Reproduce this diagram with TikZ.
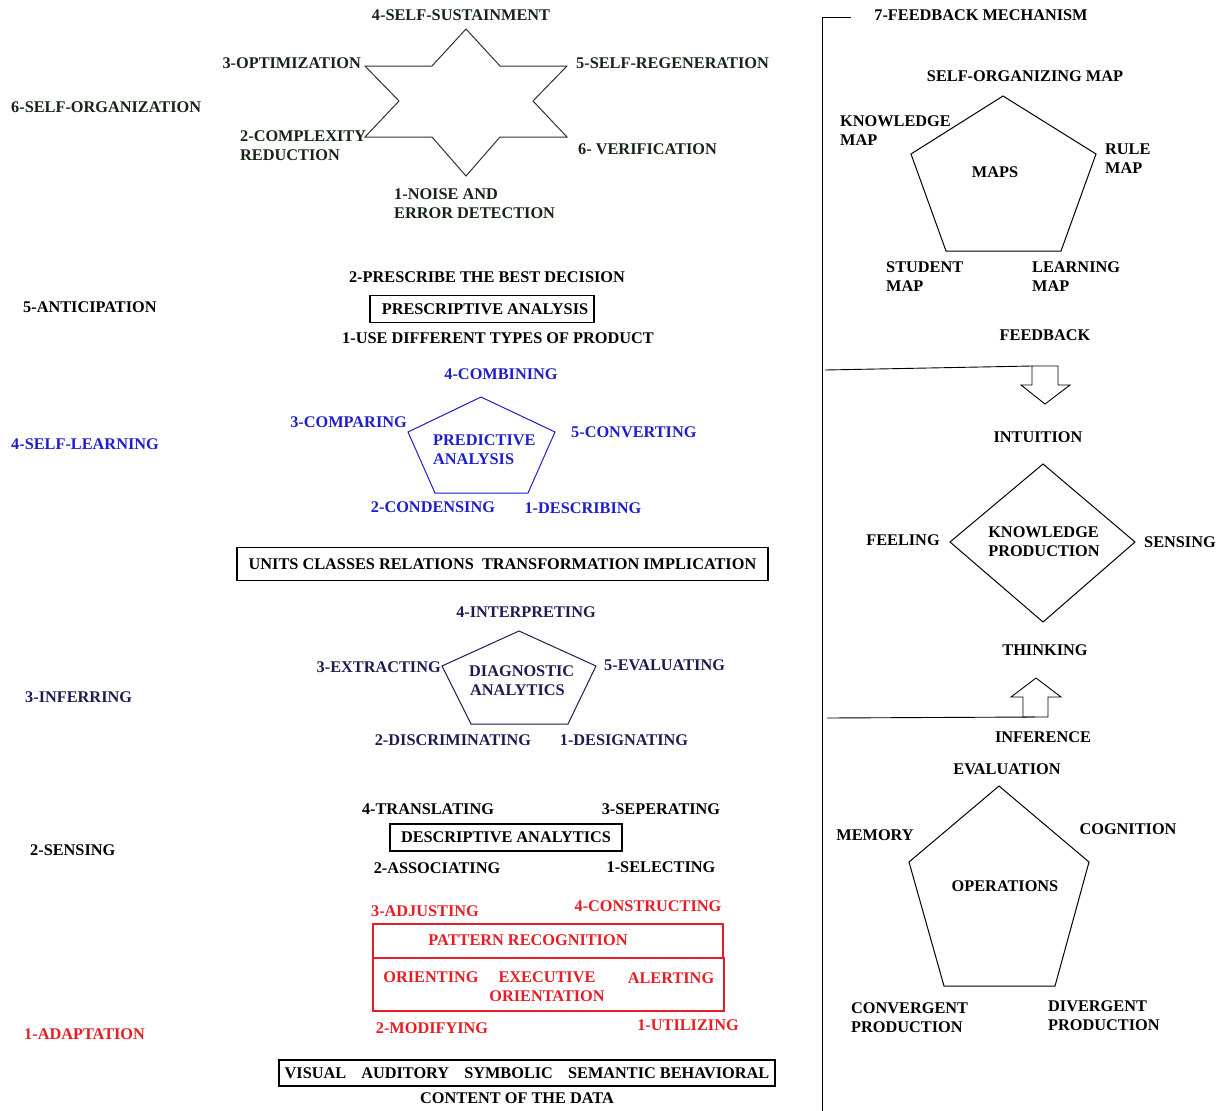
\documentclass[tikz,border=0pt]{standalone}
\usepackage{fontspec}
\setmainfont{Liberation Serif}
\usetikzlibrary{calc}
\definecolor{orgc}{RGB}{22,36,22}
\definecolor{learnc}{RGB}{30,30,205}
\definecolor{inferc}{RGB}{28,28,82}
\definecolor{adaptc}{RGB}{232,28,36}
\begin{document}
% two-line labels are placed by the centre of their last line
\begin{tikzpicture}[x=1pt,y=-1pt,
  lbl/.style={inner sep=0pt, font=\fontsize{16.3}{19}\selectfont\bfseries,
              text height=10.8pt, text depth=0pt},
  lbll/.style={lbl, align=left},
  lblc/.style={lbl, align=center},
  boxed/.style={draw, line width=1.1pt, inner sep=0pt},
  shapeline/.style={line width=1pt, line join=miter},
  barrow/.style={draw, line width=0.9pt, fill=white}]
\useasboundingbox[fill=white] (0,0) rectangle (1221,1111);

% ---------- level labels on the left ----------
\node[lbl, anchor=west, text=orgc]   (lv6) at (11,107)  {6-SELF-ORGANIZATION};
\node[lbl, anchor=west]              (lv5) at (23,307)  {5-ANTICIPATION};
\node[lbl, anchor=west, text=learnc] (lv4) at (11,444)  {4-SELF-LEARNING};
\node[lbl, anchor=west, text=inferc] (lv3) at (25,697)  {3-INFERRING};
\node[lbl, anchor=west]              (lv2) at (30,850)  {2-SENSING};
\node[lbl, anchor=west, text=adaptc] (lv1) at (24,1034) {1-ADAPTATION};

% ---------- self-organization star ----------
\draw[shapeline, draw=orgc!80!gray]
  (466,29) -- (500,66) -- (567,66) -- (533,101) -- (567,137) -- (500,137)
  -- (466,176) -- (432,137) -- (365,137) -- (399,101) -- (365,66) -- (432,66) -- cycle;
\begin{scope}[every node/.append style={text=orgc}]
\node[lbl] (s4) at (461,15) {4-SELF-SUSTAINMENT};
\node[lbl, anchor=east] (s3) at (361,63) {3-OPTIMIZATION};
\node[lbl, anchor=west] (s5) at (576,63) {5-SELF-REGENERATION};
\node[lbll, anchor=west] (s2) at (240,155) {2-COMPLEXITY\\REDUCTION};
\node[lbl, anchor=west] (s6) at (578,149) {6- VERIFICATION};
\node[lbll, anchor=west] (s1) at (394,213) {1-NOISE AND\\ERROR DETECTION};
\end{scope}

% ---------- prescriptive analysis ----------
\node[lbl] (pr2) at (487,277) {2-PRESCRIBE THE BEST DECISION};
\node[lbl, boxed, minimum width=224pt, minimum height=27pt] (prb) at (482,309) {\hspace{6pt}PRESCRIPTIVE ANALYSIS};
\node[lbl] (pr1) at (498,338) {1-USE DIFFERENT TYPES OF PRODUCT};

% ---------- predictive analysis ----------
\draw[shapeline, draw=learnc]
  (481,397) -- (555,432) -- (528,493) -- (435,493) -- (408,432) -- cycle;
\begin{scope}[every node/.append style={text=learnc}]
\node[lbl] (pd4) at (501,374) {4-COMBINING};
\node[lbll, anchor=west] (pdc) at (433,459) {PREDICTIVE\\ANALYSIS};
\node[lbl, anchor=east] (pd3) at (407,422) {3-COMPARING};
\node[lbl, anchor=west] (pd5) at (571,432) {5-CONVERTING};
\node[lbl] (pd2) at (433,507) {2-CONDENSING};
\node[lbl] (pd1) at (583,508) {1-DESCRIBING};
\end{scope}

% ---------- product box ----------
\node[lbl, boxed, minimum width=531pt, minimum height=33pt] (prod) at (502.5,564)
  {UNITS CLASSES RELATIONS\ \ TRANSFORMATION IMPLICATION};

% ---------- diagnostic analytics ----------
\draw[shapeline, draw=inferc]
  (519,631) -- (596,666) -- (568,724) -- (471,724) -- (442,666) -- cycle;
\begin{scope}[every node/.append style={text=inferc}]
\node[lbl] (dg4) at (526,612) {4-INTERPRETING};
\node[lbll, anchor=west] (dgc) at (469,690) {DIAGNOSTIC\\\hspace{1pt}ANALYTICS};
\node[lbl, anchor=east] (dg3) at (441,667) {3-EXTRACTING};
\node[lbl, anchor=west] (dg5) at (604,665) {5-EVALUATING};
\node[lbl] (dg2) at (453,740) {2-DISCRIMINATING};
\node[lbl] (dg1) at (624,740) {1-DESIGNATING};
\end{scope}

% ---------- descriptive analytics ----------
\node[lbl] (ds4) at (428,809) {4-TRANSLATING};
\node[lbl] (ds3) at (661,809) {3-SEPERATING};
\node[lbl, boxed, minimum width=232pt, minimum height=27pt] (dsb) at (506,837.5) {DESCRIPTIVE ANALYTICS};
\node[lbl] (ds2) at (437,868) {2-ASSOCIATING};
\node[lbl] (ds1) at (661,867) {1-SELECTING};

% ---------- pattern recognition ----------
\begin{scope}[every node/.append style={text=adaptc}]
\node[lbl] (pa3) at (425,911) {3-ADJUSTING};
\node[lbl] (pa4) at (648,906) {4-CONSTRUCTING};
\node[boxed, draw=adaptc, minimum width=350pt, minimum height=34pt] (pab) at (548,941) {};
\node[lbl] (pat) at (528,940) {PATTERN RECOGNITION};
\node[boxed, draw=adaptc, minimum width=351pt, minimum height=53pt] (peb) at (548.5,984.5) {};
\node[lbl] (por) at (431,977) {ORIENTING};
\node[lblc] (pex) at (547,996) {EXECUTIVE\\ORIENTATION};
\node[lbl] (pal) at (671,978) {ALERTING};
\node[lbl] (pa2) at (432,1028) {2-MODIFYING};
\node[lbl] (pa1) at (688,1025) {1-UTILIZING};
\end{scope}

% ---------- content of the data ----------
\node[lbl, boxed, minimum width=496pt, minimum height=26pt] (cnt) at (527,1073)
  {VISUAL\hspace{11pt} AUDITORY\hspace{11pt} SYMBOLIC\hspace{11pt} SEMANTIC BEHAVIORAL};
\node[lbl] (cdt) at (517,1098) {CONTENT OF THE DATA};

% ---------- feedback mechanism bracket ----------
\coordinate (fbtop) at (822,17);
\coordinate (fbend) at (851,17);
\coordinate (fbbot) at (822,1111);
\draw[line width=1pt] (fbend) -- (fbtop) -- (fbbot);
\node[lbl] (fbm) at (981,15) {7-FEEDBACK MECHANISM};

% maps pentagon
\draw[shapeline] (1003,96) -- (1096,154) -- (1061,251) -- (946,251) -- (911,154) -- cycle;
\node[lbl] (som) at (1025,76) {SELF-ORGANIZING MAP};
\node[lbll, anchor=west] (kmap) at (840,140) {KNOWLEDGE\\MAP};
\node[lbl] (maps) at (995,172) {MAPS};
\node[lbll, anchor=west] (rmap) at (1105,168) {RULE\\MAP};
\node[lbll, anchor=west] (smap) at (886,286.5) {STUDENT\\MAP};
\node[lbll, anchor=west] (lmap) at (1032,286.5) {LEARNING\\MAP};

% feedback arrow down
\node[lbl] (fbk) at (1045,335) {FEEDBACK};
\coordinate (fbl) at (825,370);
\path[barrow] (1032,366) coordinate (dnarr) -- (1058,366) -- (1058,385) -- (1070,385)
  -- (1045,404) -- (1021,385) -- (1032,385) -- cycle;
\draw[line width=0.9pt] (fbl) -- (dnarr);

% knowledge production diamond
\node[lbl] (intu) at (1038,437) {INTUITION};
\draw[shapeline] (1043,464) -- (1135,542) -- (1043,622) -- (950,542) -- cycle;
\node[lbll] (kp) at (1044,551) {KNOWLEDGE\\PRODUCTION};
\node[lbl] (feel) at (903,540) {FEELING};
\node[lbl] (sens) at (1180,542) {SENSING};
\node[lbl] (think) at (1045,650) {THINKING};

% inference arrow up
\coordinate (inl) at (827,718);
\path[barrow] (1036,678) -- (1061,697) -- (1048,697) -- (1048,717) coordinate (uparr)
  -- (1023,717) -- (1023,697) -- (1011,697) -- cycle;
\draw[line width=0.9pt] (inl) -- ($(uparr)+(-13,0)$);
\node[lbl] (infer) at (1043,737) {INFERENCE};

% operations pentagon
\draw[shapeline] (999,786) -- (1089,862) -- (1055,986) -- (944,986) -- (909,862) -- cycle;
\node[lbl] (eval) at (1007,769) {EVALUATION};
\node[lbl] (mem) at (875,835) {MEMORY};
\node[lbl] (cog) at (1128,829) {COGNITION};
\node[lbl] (ops) at (1005,886) {OPERATIONS};
\node[lbll, anchor=west] (conv) at (851,1027) {CONVERGENT\\PRODUCTION};
\node[lbll, anchor=west] (div) at (1048,1025) {DIVERGENT\\PRODUCTION};
\end{tikzpicture}
\end{document}
